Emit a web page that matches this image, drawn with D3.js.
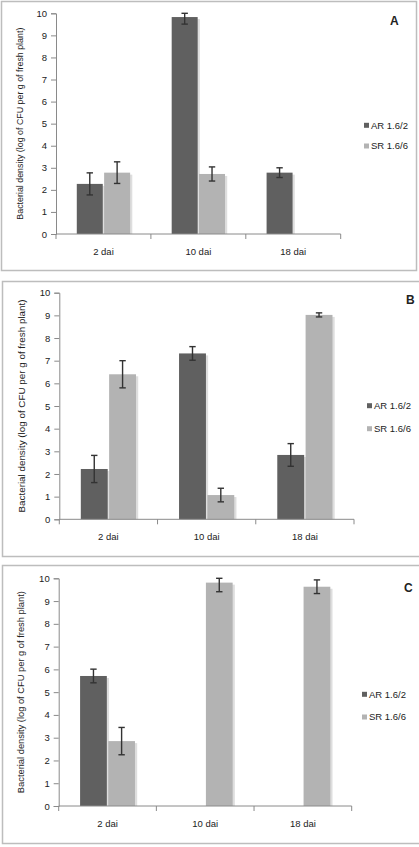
<!DOCTYPE html>
<html><head><meta charset="utf-8">
<script src="https://cdn.jsdelivr.net/npm/d3@7"></script>
<style>
html,body{margin:0;padding:0;background:#fff;overflow:hidden;}
svg{display:block;}
text{font-family:"Liberation Sans Narrow","Liberation Sans",Arial,sans-serif;fill:#222;}
</style></head><body>
<svg id="chart" width="419" height="847"></svg>
<script>
// ---- data ----
const categories = ["2 dai", "10 dai", "18 dai"];
const seriesNames = ["AR 1.6/2", "SR 1.6/6"];
const yTicks = [0,1,2,3,4,5,6,7,8,9,10];
const yTitle = "Bacterial density (log of CFU per g of fresh plant)";
const panelLabels = ["A", "B", "C"];

const A_AR = [2.27, 9.83, 2.78];
const A_AR_err = [0.50, 0.32, 0.22];
const A_SR = [2.78, 2.72, null];
const A_SR_err = [0.49, 0.32, null];

const B_AR = [2.22, 7.32, 2.84];
const B_AR_err = [0.60, 0.30, 0.50];
const B_SR = [6.40, 1.07, 9.02];
const B_SR_err = [0.60, 0.30, 0.09];

const C_AR = [5.71, null, null];
const C_AR_err = [0.30, null, null];
const C_SR = [2.85, 9.81, 9.63];
const C_SR_err = [0.60, 0.40, 0.30];

// ---- layout (styles only) ----
const layouts = [
  {box:[1,1,415,269], x0:56, x1:340.7, yTop:13.3, yBot:234, titleX:23, titleLen:192,
   legX:364, legY:[125.3,146], lab:[390,25], ar:A_AR, arE:A_AR_err, sr:A_SR, srE:A_SR_err},
  {box:[2,281,440,275], x0:59.3, x1:354, yTop:292.7, yBot:519.3, titleX:24.5, titleLen:213,
   legX:367, legY:[405.7,428.7], lab:[406,304], ar:B_AR, arE:B_AR_err, sr:B_SR, srE:B_SR_err},
  {box:[2,565,440,278], x0:58.7, x1:351.7, yTop:578.3, yBot:806, titleX:24, titleLen:202,
   legX:362, legY:[694.3,717], lab:[404,591.7], ar:C_AR, arE:C_AR_err, sr:C_SR, srE:C_SR_err}
];

const colors = {"AR 1.6/2":"#606060","SR 1.6/6":"#b3b3b3"};
const svg = d3.select("#chart");

layouts.forEach((L, i) => {
  const g = svg.append("g");
  g.append("rect").attr("x",L.box[0]+0.5).attr("y",L.box[1]+0.5)
    .attr("width",L.box[2]).attr("height",L.box[3])
    .attr("fill","none").attr("stroke","#bdbdbd").attr("stroke-width",1.5);

  const x = d3.scaleBand().domain(categories).range([L.x0, L.x1]).padding(0);
  const xi = d3.scaleBand().domain(seriesNames).range([0, x.bandwidth()])
    .paddingInner(0.05).paddingOuter(0.76);
  const y = d3.scaleLinear().domain([0,10]).range([L.yBot, L.yTop]);

  const rows = [];
  categories.forEach((c, k) => {
    [[seriesNames[0], L.ar[k], L.arE[k]], [seriesNames[1], L.sr[k], L.srE[k]]].forEach(([s,v,e]) => {
      if (v != null) rows.push({c, s, v, e});
    });
  });

  // shadows
  g.selectAll(".sh").data(rows).join("rect")
    .attr("x", d => x(d.c) + xi(d.s) + 2.2)
    .attr("y", d => y(d.v) + 2)
    .attr("width", xi.bandwidth())
    .attr("height", d => L.yBot - y(d.v) - 2)
    .attr("fill", "#dedede");
  // bars
  g.selectAll(".bar").data(rows).join("rect")
    .attr("x", d => x(d.c) + xi(d.s))
    .attr("y", d => y(d.v))
    .attr("width", xi.bandwidth())
    .attr("height", d => L.yBot - y(d.v))
    .attr("fill", d => colors[d.s]);

  // error bars
  const eg = g.selectAll(".err").data(rows.filter(d => d.e != null)).join("g")
    .attr("transform", d => `translate(${x(d.c) + xi(d.s) + xi.bandwidth()/2},0)`);
  eg.append("line").attr("x1",0).attr("x2",0)
    .attr("y1", d => y(Math.min(10, d.v + d.e))).attr("y2", d => y(d.v - d.e))
    .attr("stroke","#333").attr("stroke-width",1.4);
  eg.append("line").attr("x1",-3.2).attr("x2",3.2)
    .attr("y1", d => y(Math.min(10, d.v + d.e))).attr("y2", d => y(Math.min(10, d.v + d.e)))
    .attr("stroke","#333").attr("stroke-width",1.4);
  eg.append("line").attr("x1",-3.2).attr("x2",3.2)
    .attr("y1", d => y(d.v - d.e)).attr("y2", d => y(d.v - d.e))
    .attr("stroke","#333").attr("stroke-width",1.4);

  // y axis
  const ya = g.append("g").attr("transform",`translate(${L.x0},0)`)
    .call(d3.axisLeft(y).tickValues(yTicks).tickFormat(d3.format("d")).tickSize(5).tickPadding(4));
  ya.select(".domain").attr("stroke","#8a8a8a");
  ya.selectAll(".tick line").attr("stroke","#8a8a8a");
  ya.selectAll(".tick text").attr("font-size","9.5px").attr("fill","#222")
    .attr("font-family","'Liberation Sans',Arial,sans-serif");

  // x axis
  const xa = g.append("g").attr("transform",`translate(0,${L.yBot})`)
    .call(d3.axisBottom(x).tickSize(0).tickPadding(0));
  xa.select(".domain").attr("stroke","#8a8a8a").attr("d",`M${L.x0},0H${L.x1}`);
  xa.selectAll(".tick text").attr("font-size","9.5px").attr("fill","#222")
    .attr("dy","0").attr("y",21);
  const bounds = [L.x0].concat(categories.map(c => x(c) + x.bandwidth()));
  xa.selectAll(".bnd").data(bounds).join("line")
    .attr("x1", d => d).attr("x2", d => d).attr("y1",0).attr("y2",5)
    .attr("stroke","#8a8a8a");

  // y title
  g.append("text")
    .attr("transform", `translate(${L.titleX},${(L.yTop+L.yBot)/2}) rotate(-90)`)
    .attr("text-anchor","middle").attr("font-size","8.5px")
    .attr("textLength", L.titleLen).attr("lengthAdjust","spacingAndGlyphs")
    .text(yTitle);

  // legend
  seriesNames.forEach((s, k) => {
    g.append("rect").attr("x", L.legX).attr("y", L.legY[k]-2.5).attr("width",5).attr("height",5)
      .attr("fill", colors[s]);
    g.append("text").attr("x", L.legX + 7).attr("y", L.legY[k] + 3.3)
      .attr("font-size","9.5px").text(s);
  });

  // panel label
  g.append("text").attr("x", L.lab[0]).attr("y", L.lab[1])
    .attr("font-size","12px").attr("font-weight","bold")
    .attr("font-family","'Liberation Sans',Arial,sans-serif").text(panelLabels[i]);
});
</script>
</body></html>
